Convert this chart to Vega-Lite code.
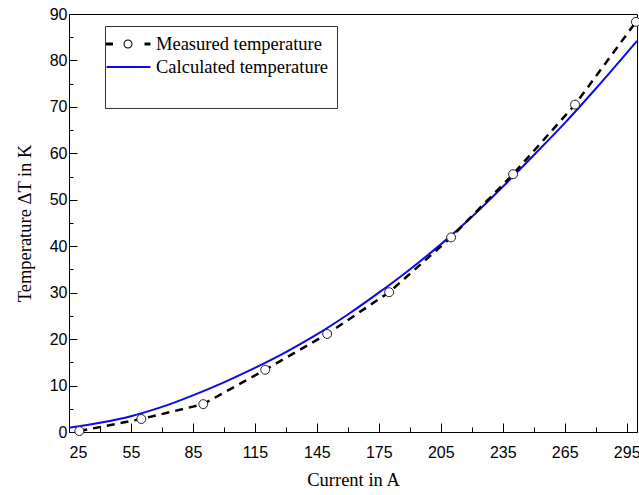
{
  "$schema": "https://vega.github.io/schema/vega-lite/v6.json",
  "width": 568,
  "height": 418,
  "autosize": {"type": "none"},
  "padding": {"left": 69, "top": 14, "right": 2, "bottom": 63},
  "background": "white",
  "config": {
    "view": {"stroke": "black", "strokeWidth": 1},
    "axis": {
      "grid": false,
      "domainColor": "black",
      "tickColor": "black",
      "labelFont": "Liberation Sans",
      "labelFontSize": 16,
      "labelColor": "black",
      "titleFont": "Liberation Serif",
      "titleFontSize": 18.5,
      "titleFontWeight": "normal",
      "titleColor": "black"
    }
  },
  "datasets": {
    "calc": [
      {"current": 25, "temp": 0.9, "series": "Calculated temperature"},
      {"current": 40, "temp": 2.0, "series": "Calculated temperature"},
      {"current": 55, "temp": 3.4, "series": "Calculated temperature"},
      {"current": 70, "temp": 5.4, "series": "Calculated temperature"},
      {"current": 85, "temp": 7.9, "series": "Calculated temperature"},
      {"current": 100, "temp": 10.7, "series": "Calculated temperature"},
      {"current": 115, "temp": 13.8, "series": "Calculated temperature"},
      {"current": 130, "temp": 17.2, "series": "Calculated temperature"},
      {"current": 145, "temp": 21.0, "series": "Calculated temperature"},
      {"current": 160, "temp": 25.3, "series": "Calculated temperature"},
      {"current": 175, "temp": 30.0, "series": "Calculated temperature"},
      {"current": 190, "temp": 35.0, "series": "Calculated temperature"},
      {"current": 205, "temp": 40.4, "series": "Calculated temperature"},
      {"current": 220, "temp": 46.3, "series": "Calculated temperature"},
      {"current": 235, "temp": 52.8, "series": "Calculated temperature"},
      {"current": 250, "temp": 59.6, "series": "Calculated temperature"},
      {"current": 265, "temp": 66.5, "series": "Calculated temperature"},
      {"current": 280, "temp": 73.9, "series": "Calculated temperature"},
      {"current": 300, "temp": 84.2, "series": "Calculated temperature"}
    ],
    "meas": [
      {"current": 30, "temp": 0.2},
      {"current": 60, "temp": 2.8},
      {"current": 90, "temp": 6.0},
      {"current": 120, "temp": 13.4},
      {"current": 150, "temp": 21.1},
      {"current": 180, "temp": 30.1},
      {"current": 210, "temp": 41.9},
      {"current": 240, "temp": 55.5},
      {"current": 270, "temp": 70.5},
      {"current": 299.5, "temp": 88.3}
    ]
  },
  "resolve": {"axis": {"x": "independent", "y": "independent"}},
  "layer": [
    {
      "data": {"name": "calc"},
      "mark": {"type": "line", "strokeWidth": 2, "interpolate": "monotone"},
      "encoding": {
        "x": {
          "field": "current", "type": "quantitative",
          "scale": {"domain": [25, 300], "nice": false, "zero": false},
          "axis": {"orient": "bottom", "title": "Current in A", "values": [25, 55, 85, 115, 145, 175, 205, 235, 265, 295], "tickSize": -9, "labelPadding": 21, "titlePadding": 10}
        },
        "y": {
          "field": "temp", "type": "quantitative",
          "scale": {"domain": [0, 90], "nice": false},
          "axis": {"orient": "left", "title": "Temperature ΔT in K", "values": [0, 10, 20, 30, 40, 50, 60, 70, 80, 90], "tickSize": -8, "labelPadding": 10, "titlePadding": 15}
        },
        "color": {
          "field": "series", "type": "nominal",
          "scale": {"domain": ["Measured temperature", "Calculated temperature", " "], "range": ["black", "#0a0af0", "transparent"]},
          "legend": {
            "orient": "none", "legendX": 36, "legendY": 12, "title": null,
            "symbolSize": 400, "rowPadding": 3, "padding": 8,
            "symbolOffset": 5, "labelOffset": 18,
            "labelFont": "Liberation Serif", "labelFontSize": 18.5, "labelColor": "black", "labelLimit": 0,
            "strokeColor": "#333", "fillColor": "white",
            "encode": {
              "symbols": {
                "update": {
                  "shape": {"signal": "datum.value === 'Measured temperature' ? 'M-2.2,-0.14L-1.5,-0.14L-1.5,0.14L-2.2,0.14Z M0.45,0A0.45,0.45 0 1,0 -0.45,0A0.45,0.45 0 1,0 0.45,0Z M0.35,0A0.35,0.35 0 1,1 -0.35,0A0.35,0.35 0 1,1 0.35,0Z M1.65,-0.14L2.25,-0.14L2.25,0.14L1.65,0.14Z' : datum.value === 'Calculated temperature' ? 'M-2.15,-0.1L2.25,-0.1L2.25,0.1L-2.15,0.1Z' : 'M0,0'"},
                  "fill": {"signal": "datum.value === 'Measured temperature' ? 'black' : datum.value === 'Calculated temperature' ? '#0a0af0' : 'transparent'"},
                  "stroke": {"value": "transparent"},
                  "strokeWidth": {"value": 0},
                  "opacity": {"value": 1}
                }
              }
            }
          }
        }
      }
    },
    {
      "data": {"name": "meas"},
      "mark": {"type": "line", "strokeWidth": 2.5, "color": "black", "strokeDash": [8, 6]},
      "encoding": {
        "x": {
          "field": "current", "type": "quantitative",
          "axis": {"orient": "bottom", "title": null, "values": [40, 70, 100, 130, 160, 190, 220, 250, 280], "tickSize": -5, "labels": false, "domain": false}
        },
        "y": {
          "field": "temp", "type": "quantitative",
          "axis": {"orient": "left", "title": null, "values": [5, 15, 25, 35, 45, 55, 65, 75, 85], "tickSize": -4, "labels": false, "domain": false}
        }
      }
    },
    {
      "data": {"name": "meas"},
      "mark": {"type": "point", "shape": "circle", "filled": true, "fill": "white", "stroke": "#222", "strokeWidth": 1, "size": 80, "opacity": 1},
      "encoding": {
        "x": {"field": "current", "type": "quantitative", "axis": null},
        "y": {"field": "temp", "type": "quantitative", "axis": null}
      }
    }
  ]
}
